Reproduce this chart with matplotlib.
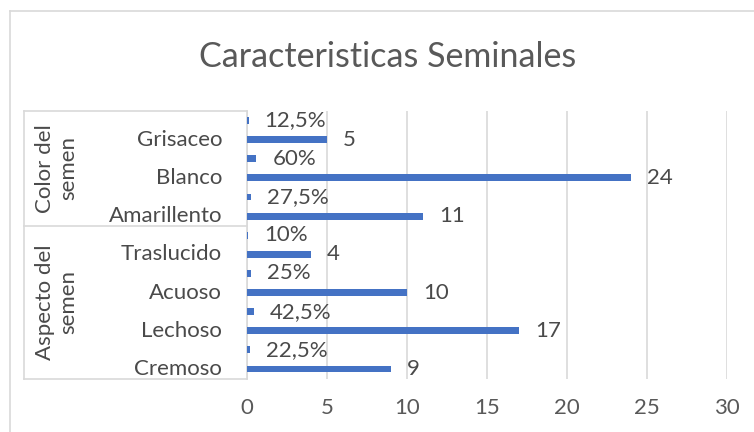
import matplotlib.pyplot as plt
import numpy as np

plt.rcParams["font.family"] = ["Lato", "DejaVu Sans"]

TITLE = "Caracteristicas Seminales"
CATEGORIES = ["Cremoso", "Lechoso", "Acuoso", "Traslucido", "Amarillento", "Blanco", "Grisaceo"]
GROUPS = ["Aspecto del\nsemen", "Color del\nsemen"]
GROUP_SIZES = [4, 3]
COUNTS = [9, 17, 10, 4, 11, 24, 5]
SHARES = [0.225, 0.425, 0.25, 0.1, 0.275, 0.6, 0.125]
X_TICKS = [0, 5, 10, 15, 20, 25, 30]

BLUE = "#4472C4"
TEXT = "#595959"
LABEL = "#4a4a4a"
GRID = "#D9D9D9"
W, H = 754, 432
FS = 16

# plot area in pixels
X0, X1 = 246.7, 727.0
Y0, Y1 = 111.0, 378.5


def px(x):
    # pixel x -> axes fraction
    return (x - X0) / (X1 - X0)


fig = plt.figure(figsize=(W / 100, H / 100), dpi=100)
ax = fig.add_axes([X0 / W, 1 - Y1 / H, (X1 - X0) / W, (Y1 - Y0) / H])

# outer chart border (cropped on right/bottom)
fig.add_artist(plt.Line2D([10 / W, 10 / W], [0, 1 - 11 / H], color=GRID, lw=1.2))
fig.add_artist(plt.Line2D([10 / W, 1], [1 - 11 / H, 1 - 11 / H], color=GRID, lw=1.2))

pos = np.arange(len(CATEGORIES))
bars_count = ax.barh(pos, COUNTS, height=0.18, color=BLUE, zorder=3)
bars_share = ax.barh(pos + 0.5, SHARES, height=0.18, color=BLUE, zorder=3)

ax.bar_label(bars_count, labels=[str(c) for c in COUNTS], padding=11.5,
             fontsize=FS, color=LABEL)
ax.bar_label(bars_share,
             labels=[f"{s * 100:g}%".replace(".", ",") for s in SHARES],
             padding=11.5, fontsize=FS, color=LABEL)

ax.set_xlim(0, 30)
ax.set_ylim(-0.25, len(CATEGORIES) - 0.25)
ax.set_xticks(X_TICKS)
ax.set_xticklabels([str(t) for t in X_TICKS])
ax.set_yticks([])
ax.tick_params(axis="x", length=0, pad=14, labelsize=FS, labelcolor=TEXT)
ax.grid(axis="x", color=GRID, lw=1.2, zorder=0)
for side in ["top", "right", "bottom"]:
    ax.spines[side].set_visible(False)
ax.spines["left"].set_color(GRID)
ax.spines["left"].set_linewidth(1.2)

yt = ax.get_yaxis_transform()
for p, name in zip(pos, CATEGORIES):
    ax.text(px(222), p, name, transform=yt, ha="right", va="center",
            fontsize=FS, color=LABEL, clip_on=False)

# multi-level label box
lines = [-0.25, len(CATEGORIES) - 0.25]
start = -0.25
for size in GROUP_SIZES[:-1]:
    start += size
    lines.append(start)
for y in lines:
    ax.plot([px(24), 0], [y, y], transform=yt, color=GRID, lw=1.2, clip_on=False)
ax.plot([px(24), px(24)], [-0.25, len(CATEGORIES) - 0.25], transform=yt,
        color=GRID, lw=1.2, clip_on=False)

start = -0.25
for group, size in zip(GROUPS, GROUP_SIZES):
    ax.text(px(57), start + size / 2, group, transform=yt, rotation=90,
            ha="center", va="center", fontsize=FS, color=LABEL,
            linespacing=1.2, multialignment="center", clip_on=False)
    start += size

fig.text(388 / W, 1 - 57 / H, TITLE, ha="center", va="center",
         fontsize=24.5, color=TEXT)

fig.savefig("out.png", dpi=100)
